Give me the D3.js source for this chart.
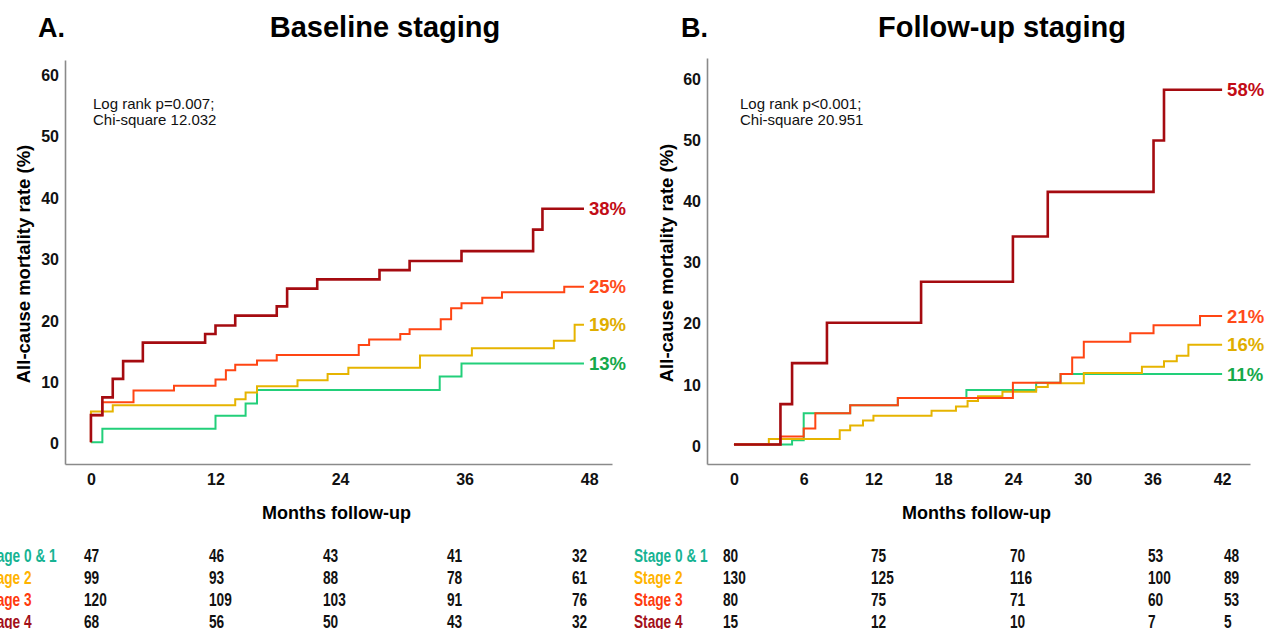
<!DOCTYPE html>
<html>
<head>
<meta charset="utf-8">
<script src="https://cdn.jsdelivr.net/npm/d3@7"></script>
<style>
  body { margin: 0; background: #fff; }
  svg { font-family: "Liberation Sans", Arial, sans-serif; }
  .tick text { font-size: 16px; font-weight: bold; fill: #111; }
  .narrow { font-weight: bold; font-size: 18px; }
</style>
</head>
<body>
<div id="chart"></div>
<script>
// ---- data: [month, cumulative mortality %] step points ----
var stages = ['Stage 0 & 1', 'Stage 2', 'Stage 3', 'Stage 4'];

var baseStage01 = [[0,0],[1.1,2.2],[12,4.3],[14.9,6.3],[16,8.5],[33.6,10.7],[35.7,12.8]];
var baseStage2  = [[0,0],[0,5.0],[2.1,6.0],[13.9,7.0],[14.9,8.1],[16,9.1],[19.9,10.1],[22.8,11.1],[24.8,12.1],[31.7,14.1],[36.7,15.3],[44.6,16.5],[46.6,19.1]];
var baseStage3  = [[0,0],[0,4.4],[1.1,6.5],[4.1,8.4],[8.0,9.2],[12,10.2],[13,11.7],[13.9,12.6],[16,13.3],[17.9,14.2],[25.8,15.8],[26.8,16.7],[29.8,17.6],[30.7,18.4],[33.7,20.0],[34.7,21.8],[35.7,22.6],[37.7,23.5],[39.6,24.4],[45.6,25.3]];
var baseStage4  = [[0,0],[0,4.4],[1.1,7.3],[2.1,10.3],[3.1,13.2],[5.0,16.2],[11,17.6],[12,19.0],[13.9,20.6],[17.9,22.1],[18.9,25.0],[21.8,26.5],[27.8,28.0],[30.7,29.5],[35.7,31.1],[42.6,34.6],[43.5,38.0]];
var baseEnd = 47.5;
var baseFinal = ['13%', '19%', '25%', '38%'];
var baseTicks = [0, 12, 24, 36, 48];
var baseAtRisk = [[47, 46, 43, 41, 32], [99, 93, 88, 78, 61], [120, 109, 103, 91, 76], [68, 56, 50, 43, 32]];

var followStage01 = [[0,0],[5.0,0.7],[6.0,5.1],[10.0,6.4],[14.1,7.6],[20.0,8.9],[26.0,10.1],[28.1,11.5]];
var followStage2  = [[0,0],[3.0,0.9],[9.1,2.3],[10.0,3.1],[11.1,3.9],[12.0,4.7],[17.0,5.5],[19.1,6.2],[20.1,7.1],[21.0,7.9],[23.1,8.6],[26.0,9.4],[27.0,10.0],[30.1,11.7],[35.1,12.7],[37.0,13.6],[38.1,14.5],[39.1,16.3]];
var followStage3  = [[0,0],[4.0,1.3],[6.0,2.6],[7.0,5.1],[10.0,6.4],[14.1,7.6],[24.0,10.1],[28.1,11.5],[29.1,14.2],[30.1,16.8],[34.1,18.2],[36.1,19.5],[40.1,21.0]];
var followStage4  = [[0,0],[4.0,6.6],[5.0,13.3],[8.0,19.9],[16.1,26.6],[24.0,34.0],[27.0,41.3],[36.1,49.7],[37.0,58.0]];
var followEnd = 42;
var followFinal = ['11%', '16%', '21%', '58%'];
var followTicks = [0, 6, 12, 18, 24, 30, 36, 42];
var followAtRisk = [[80, 75, 70, 53, 48], [130, 125, 116, 100, 89], [80, 75, 71, 60, 53], [15, 12, 10, 7, 5]];

var yTicks = [0, 10, 20, 30, 40, 50, 60];

var lineColors  = ['#22cf7a', '#e6b400', '#ff4513', '#a50b10'];
var labelColors = ['#15a94a', '#e0ae00', '#ff4a1a', '#c20c16'];
var stageColors = ['#17b393', '#ffb300', '#ff3a0e', '#a3101a'];
var lineWidths  = [2, 2, 2, 2.6];

var svg = d3.select('#chart').append('svg')
    .attr('width', 1276)
    .attr('height', 629);

// condensed bold text for the at-risk table (Arial Narrow look)
function narrowText(g, x, y, txt, color) {
    g.append('text')
        .attr('class', 'narrow')
        .attr('transform', 'translate(' + x + ',' + y + ') scale(0.76,1)')
        .attr('dy', '0.36em')
        .attr('fill', color)
        .text(txt);
}

function drawPanel(p) {
    var x = d3.scaleLinear().domain(p.xDomain).range([p.left, p.right]);
    var y = d3.scaleLinear().domain(p.yDomain).range([p.bottom, p.top]);
    var g = svg.append('g');

    // axes: gray domain lines, no tick marks
    var xAxis = g.append('g')
        .attr('transform', 'translate(0,' + p.bottom + ')')
        .call(d3.axisBottom(x).tickValues(p.xTicks).tickSize(0).tickPadding(10));
    var yAxis = g.append('g')
        .attr('transform', 'translate(' + p.left + ',0)')
        .call(d3.axisLeft(y).tickValues(yTicks).tickSize(0).tickPadding(6));
    [xAxis, yAxis].forEach(function (a) {
        a.select('.domain').attr('stroke', '#8a8a8a').attr('stroke-width', 1.6);
        a.selectAll('.tick text').attr('font-family', null).attr('font-size', null);
    });
    yAxis.selectAll('.tick text').attr('dy', '0.42em');

    g.append('text')
        .attr('transform', 'translate(' + p.yTitleX + ',' + ((p.top + p.bottom) / 2 + 2) + ') rotate(-90)')
        .attr('text-anchor', 'middle')
        .attr('font-size', 18.5).attr('font-weight', 'bold')
        .text('All-cause mortality rate (%)');

    g.append('text')
        .attr('x', (p.left + p.right) / 2 - 2).attr('y', 519)
        .attr('text-anchor', 'middle')
        .attr('font-size', 18).attr('font-weight', 'bold')
        .text('Months follow-up');

    g.append('text')
        .attr('x', p.letterX).attr('y', 37)
        .attr('font-size', 27).attr('font-weight', 'bold')
        .text(p.letter);
    g.append('text')
        .attr('x', p.titleX).attr('y', 37)
        .attr('text-anchor', 'middle')
        .attr('font-size', 29).attr('font-weight', 'bold')
        .text(p.title);

    var note = g.append('text')
        .attr('x', p.noteX).attr('y', 109)
        .attr('font-size', 15).attr('fill', '#111');
    note.append('tspan').attr('x', p.noteX).text(p.note[0]);
    note.append('tspan').attr('x', p.noteX).attr('dy', 16).text(p.note[1]);

    var line = d3.line()
        .x(function (d) { return x(d[0]); })
        .y(function (d) { return y(d[1]); })
        .curve(d3.curveStepAfter);

    p.series.forEach(function (s, i) {
        var pts = s.concat([[p.end, s[s.length - 1][1]]]);
        g.append('path')
            .attr('d', line(pts))
            .attr('fill', 'none')
            .attr('stroke', lineColors[i])
            .attr('stroke-width', lineWidths[i]);
        g.append('text')
            .attr('x', x(p.end) + 5)
            .attr('y', y(s[s.length - 1][1]))
            .attr('dy', '0.36em')
            .attr('font-size', 18.5).attr('font-weight', 'bold')
            .attr('fill', labelColors[i])
            .text(p.final[i]);
    });

    // numbers at risk
    var rowY = [556, 578, 600, 622];
    stages.forEach(function (name, i) {
        narrowText(g, p.stageX, rowY[i], name, stageColors[i]);
        p.atRisk[i].forEach(function (v, j) {
            narrowText(g, p.colX[j], rowY[i], v, '#111');
        });
    });
}

drawPanel({
    letter: 'A.', letterX: 38, title: 'Baseline staging', titleX: 385,
    note: ['Log rank p=0.007;', 'Chi-square 12.032'], noteX: 93,
    left: 65, right: 612, top: 60, bottom: 464,
    xDomain: [-2.5, 50.2], yDomain: [-3.55, 62.2],
    xTicks: baseTicks, yTitleX: 30,
    series: [baseStage01, baseStage2, baseStage3, baseStage4],
    end: baseEnd, final: baseFinal,
    atRisk: baseAtRisk, stageX: -17, colX: [84, 209, 323, 447, 572]
});

drawPanel({
    letter: 'B.', letterX: 681, title: 'Follow-up staging', titleX: 1002,
    note: ['Log rank p<0.001;', 'Chi-square 20.951'], noteX: 740,
    left: 707, right: 1250, top: 58, bottom: 464,
    xDomain: [-2.32, 44.4], yDomain: [-3.2, 63.2],
    xTicks: followTicks, yTitleX: 673,
    series: [followStage01, followStage2, followStage3, followStage4],
    end: followEnd, final: followFinal,
    atRisk: followAtRisk, stageX: 634, colX: [723, 871, 1010, 1148, 1224]
});
</script>
</body>
</html>
